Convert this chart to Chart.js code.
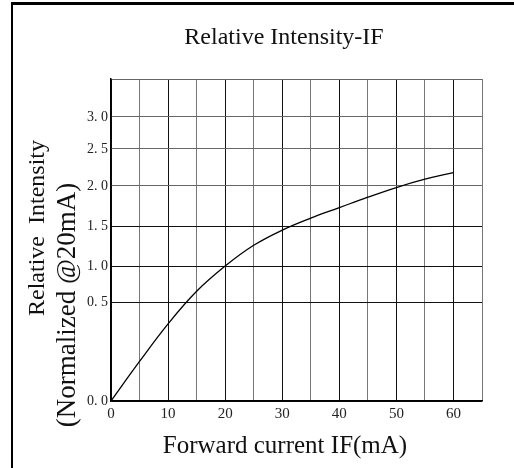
<!DOCTYPE html>
<html>
<head>
<meta charset="utf-8">
<script src="https://cdn.jsdelivr.net/npm/chart.js@4/dist/chart.umd.min.js"></script>
<style>
  html, body { margin: 0; padding: 0; background: #fff; }
  #wrap { position: relative; width: 514px; height: 468px; }
  #frame { position: absolute; left: 11px; top: 2px; right: 0; bottom: 0;
           border-left: 2px solid #000; border-top: 3px solid #000; pointer-events: none; }
  canvas { position: absolute; left: 0; top: 0; }
</style>
</head>
<body>
<div id="wrap">
  <canvas id="chart" width="514" height="468"></canvas>
  <div id="frame"></div>
</div>
<script>
// forward current (mA) and relative intensity
const currents = [0, 5, 10, 15, 20, 25, 30, 35, 40, 45, 50, 55, 60];
const intensity = [0, 0.2, 0.39, 0.65, 1.0, 1.26, 1.45, 1.6, 1.73, 1.86, 1.98, 2.09, 2.18];

// axis ticks
const xTicks = [0, 10, 20, 30, 40, 50, 60];
const yTicks = [0, 0.5, 1.0, 1.5, 2.0, 2.5, 3.0];
const xMax = 65;
const yMax = 3.5;

// the printed y axis is not evenly spaced: 0 -> 0.5 takes a much bigger step
const yBreaks = [0, 0.5, 1.0, 1.5, 2.0, 2.5, 3.0, 3.5];
const yBreakPos = [0, 0.307, 0.419, 0.543, 0.668, 0.783, 0.882, 1];

class PiecewiseScale extends Chart.LinearScale {
  getPixelForValue(value) {
    let f = 0;
    if (value <= yBreaks[0]) f = yBreakPos[0];
    else if (value >= yBreaks[yBreaks.length - 1]) f = yBreakPos[yBreakPos.length - 1];
    else {
      for (let i = 1; i < yBreaks.length; i++) {
        if (value <= yBreaks[i]) {
          const t = (value - yBreaks[i - 1]) / (yBreaks[i] - yBreaks[i - 1]);
          f = yBreakPos[i - 1] + t * (yBreakPos[i] - yBreakPos[i - 1]);
          break;
        }
      }
    }
    return this.bottom - f * (this.bottom - this.top);
  }
  getValueForPixel(pixel) {
    const f = (this.bottom - pixel) / (this.bottom - this.top);
    for (let i = 1; i < yBreakPos.length; i++) {
      if (f <= yBreakPos[i]) {
        const t = (f - yBreakPos[i - 1]) / (yBreakPos[i] - yBreakPos[i - 1]);
        return yBreaks[i - 1] + t * (yBreaks[i] - yBreaks[i - 1]);
      }
    }
    return yBreaks[yBreaks.length - 1];
  }
}
PiecewiseScale.id = 'piecewise';
PiecewiseScale.defaults = Chart.LinearScale.defaults;
Chart.register(PiecewiseScale);

const serif = "'Liberation Serif', 'DejaVu Serif', serif";

// titles are placed by hand to sit where the original has them
const titles = {
  id: 'titles',
  afterDraw(chart) {
    const c = chart.ctx;
    c.save();
    c.fillStyle = '#111';
    c.textAlign = 'center';
    c.textBaseline = 'alphabetic';
    c.font = '24px ' + serif;
    c.fillText('Relative Intensity-IF', 284, 44);
    c.font = '25px ' + serif;
    c.fillText('Forward current IF(mA)', 285, 453);

    c.textBaseline = 'middle';
    c.translate(38, 228);
    c.rotate(-Math.PI / 2);
    c.font = '24px ' + serif;
    c.fillText('Relative  Intensity', 0, 0);
    c.restore();

    c.save();
    c.fillStyle = '#111';
    c.textAlign = 'center';
    c.textBaseline = 'middle';
    c.translate(68, 305);
    c.rotate(-Math.PI / 2);
    c.font = '27px ' + serif;
    c.fillText('(Normalized @20mA)', 0, 0);
    c.restore();
  }
};

new Chart(document.getElementById('chart'), {
  type: 'line',
  data: {
    datasets: [{
      data: currents.map((c, i) => ({ x: c, y: intensity[i] })),
      borderColor: '#000',
      borderWidth: 1.3,
      pointRadius: 0,
      fill: false,
      tension: 0.4
    }]
  },
  options: {
    responsive: false,
    animation: false,
    layout: { padding: { left: 81, right: 32, top: 79, bottom: 39 } },
    plugins: { legend: { display: false }, tooltip: { enabled: false } },
    scales: {
      x: {
        type: 'linear',
        min: 0,
        max: xMax,
        afterFit(scale) { scale.height = 28; },
        afterBuildTicks(scale) {
          const t = [];
          for (let v = 0; v <= xMax; v += 5) t.push({ value: v });
          scale.ticks = t;
        },
        ticks: {
          autoSkip: false,
          maxRotation: 0,
          padding: 4,
          color: '#222',
          font: { family: serif, size: 15 },
          callback: v => xTicks.includes(v) ? String(v) : ''
        },
        grid: {
          drawTicks: false,
          lineWidth: 1,
          color: ctx => (ctx.tick && ctx.tick.value % 10 === 0) ? '#111' : '#777'
        },
        border: { display: true, color: '#000', width: 1.5 }
      },
      y: {
        type: 'piecewise',
        min: 0,
        max: yMax,
        afterFit(scale) { scale.width = 30; },
        afterBuildTicks(scale) {
          scale.ticks = yTicks.concat([yMax]).map(v => ({ value: v }));
        },
        ticks: {
          autoSkip: false,
          padding: 3,
          color: '#222',
          font: { family: serif, size: 14 },
          callback: v => yTicks.includes(v) ? v.toFixed(1).replace('.', '. ') : ''
        },
        grid: {
          drawTicks: false,
          lineWidth: 1,
          color: ctx => (ctx.tick && ctx.tick.value >= 2) ? '#666' : '#111'
        },
        border: { display: true, color: '#000', width: 1.5 }
      }
    }
  },
  plugins: [titles]
});
</script>
</body>
</html>
